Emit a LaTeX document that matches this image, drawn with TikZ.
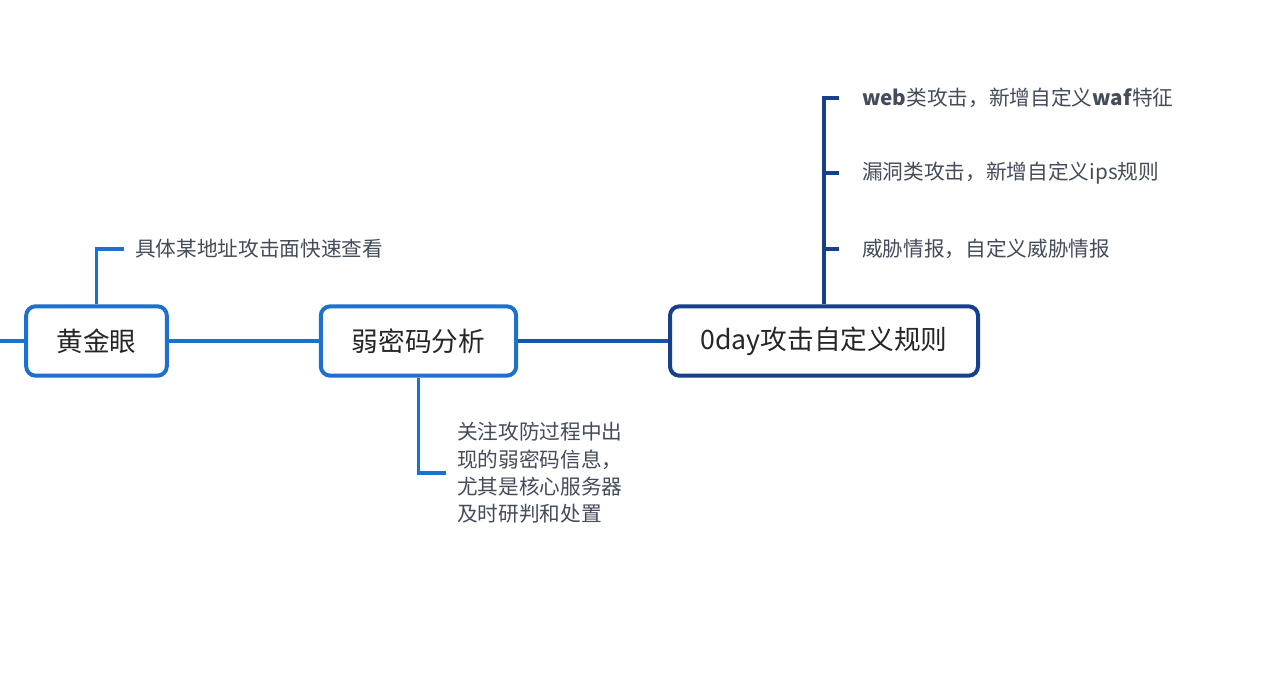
\documentclass[tikz,border=0pt]{standalone}
\usepackage{fontspec}
\setmainfont{Noto Sans CJK SC}
\usetikzlibrary{positioning}
\definecolor{BlueM} {RGB}{30, 112, 205}
\definecolor{BlueN} {RGB}{26,  84, 170}
\definecolor{NavyM} {RGB}{22,  64, 138}
\definecolor{GreyT} {RGB}{68,  76,  90}
\tikzset{
  topic/.style={draw=BlueM,line width=3pt,rounded corners=7pt,fill=white,
    text=black!85,font=\fontsize{20}{24}\selectfont,
    minimum height=52pt,inner sep=0pt},
  leaf/.style={text=GreyT,font=\fontsize{15.5}{20.5}\selectfont,
    anchor=west,inner sep=0pt,align=left},
  branch/.style={line width=2.5pt,shorten >=8pt}
}
\begin{document}
\begin{tikzpicture}[x=0.75pt,y=-0.75pt]
  \useasboundingbox[fill=white] (0,0) rectangle (1281,677);
  % main topics
  \node[topic,minimum width=105.5pt] (eye) at (96.5,341) {黄金眼};
  \node[topic,minimum width=146.5pt] (weak) at (418.5,341) {弱密码分析};
  \node[topic,draw=NavyM,minimum width=231pt] (oday) at (824,341) {0day攻击自定义规则};
  \coordinate (lend) at (0,341);
  \draw[BlueM,line width=3pt] (lend) -- (eye);
  \draw[BlueM,line width=3pt] (eye) -- (weak);
  \draw[BlueN,line width=3pt] (weak) -- (oday);
  % sub topics
  \node[leaf] (quick) at (135,249) {具体某地址攻击面快速查看};
  \node[leaf] (weaknote) at (457,473) {关注攻防过程中出\\现的弱密码信息，\\尤其是核心服务器\\及时研判和处置};
  \node[leaf] (waf) at (862,98) {\textbf{web}类攻击，新增自定义\textbf{waf}特征};
  \node[leaf] (ips) at (862,173) {漏洞类攻击，新增自定义ips规则};
  \node[leaf] (intel) at (862,249) {威胁情报，自定义威胁情报};
  \draw[BlueM,branch] (eye.north) |- (quick.west);
  \draw[BlueM,branch] (weak.south) |- (weaknote.west);
  \foreach \leafname in {waf,ips,intel}
    \draw[NavyM,branch,shorten >=17pt] (oday.north) |- (\leafname.west);
\end{tikzpicture}
\end{document}
